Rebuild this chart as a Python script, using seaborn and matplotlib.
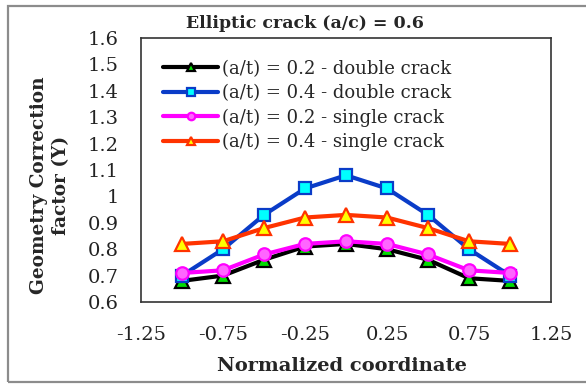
import numpy as np
import pandas as pd
import matplotlib
matplotlib.use("Agg")
import matplotlib.pyplot as plt
import seaborn as sns
from matplotlib.patches import Rectangle

# ---- data ----
x_coord = [-1.0, -0.75, -0.5, -0.25, 0.0, 0.25, 0.5, 0.75, 1.0]
y_02_double = [0.68, 0.70, 0.76, 0.81, 0.82, 0.80, 0.76, 0.69, 0.68]
y_04_double = [0.70, 0.80, 0.93, 1.03, 1.08, 1.03, 0.93, 0.80, 0.70]
y_02_single = [0.71, 0.72, 0.78, 0.82, 0.83, 0.82, 0.78, 0.72, 0.71]
y_04_single = [0.82, 0.83, 0.88, 0.92, 0.93, 0.92, 0.88, 0.83, 0.82]
labels = ["(a/t) = 0.2 - double crack", "(a/t) = 0.4 - double crack",
          "(a/t) = 0.2 - single crack", "(a/t) = 0.4 - single crack"]
xticks = [-1.25, -0.75, -0.25, 0.25, 0.75, 1.25]
xtick_labels = ["-1.25", "-0.75", "-0.25", "0.25", "0.75", "1.25"]
yticks = [0.6, 0.7, 0.8, 0.9, 1.0, 1.1, 1.2, 1.3, 1.4, 1.5, 1.6]
ytick_labels = ["0.6", "0.7", "0.8", "0.9", "1", "1.1", "1.2", "1.3", "1.4", "1.5", "1.6"]
title = "Elliptic crack (a/c) = 0.6"
xlabel = "Normalized coordinate"
ylabel = "Geometry Correction\nfactor (Y)"

frames = []
for lab, ys in zip(labels, [y_02_double, y_04_double, y_02_single, y_04_single]):
    frames.append(pd.DataFrame({"x": x_coord, "y": ys, "series": lab}))
df = pd.concat(frames, ignore_index=True)

styles = [
    dict(color="#000000", marker="^", markerfacecolor="#00DD00", markeredgecolor="#000000", markersize=10),
    dict(color="#0A3CC8", marker="s", markerfacecolor="#00FFFF", markeredgecolor="#0A3CC8", markersize=8.5),
    dict(color="#FF00FF", marker="o", markerfacecolor="#FF66FF", markeredgecolor="#FF00FF", markersize=9),
    dict(color="#FF3300", marker="^", markerfacecolor="#FFFF00", markeredgecolor="#FF3300", markersize=10),
]

sns.set_theme(style="white")
plt.rcParams["font.family"] = ["DejaVu Serif"]

fig = plt.figure(figsize=(5.86, 3.85), dpi=100)
ax = fig.add_axes([141/586, 1-302/385, (551-141)/586, (302-38)/385])

for lab, st in zip(labels, styles):
    sub = df[df["series"] == lab]
    sns.lineplot(data=sub, x="x", y="y", ax=ax, label=lab, linewidth=3,
                 markeredgewidth=1.6, **st)

ax.set_xlim(-1.25, 1.25)
ax.set_ylim(0.6, 1.6)
ax.set_xticks(xticks)
ax.set_xticklabels(xtick_labels)
ax.set_yticks(yticks)
ax.set_yticklabels(ytick_labels)
ax.tick_params(axis="both", length=0, labelsize=14, colors="#222222")
ax.tick_params(axis="y", pad=16)
ax.tick_params(axis="x", pad=17)
for sp in ax.spines.values():
    sp.set_color("#333333")
    sp.set_linewidth(1.2)
ax.set_xlabel("")
ax.set_ylabel("")

fig.text(305/586, 1-23/385, title, ha="center", va="center", fontsize=12.5, fontweight="bold")
fig.text(342/586, 1-366/385, xlabel, ha="center", va="center", fontsize=14, fontweight="bold")
fig.text(50/586, 1-185/385, ylabel, ha="center", va="center", rotation=90,
         fontsize=13.3, fontweight="bold", linespacing=1.35)

leg = ax.legend(loc="upper left", bbox_to_anchor=(0.037, 0.945), frameon=False,
                fontsize=13, handlelength=3.05, handletextpad=0.22, labelspacing=0.35,
                markerscale=0.6, borderaxespad=0)

fig.patches.append(Rectangle((8/586, 3/385), 1.2, 1-9/385, transform=fig.transFigure,
                             fill=False, edgecolor="#8C8C8C", linewidth=1.6, zorder=0))

fig.savefig("out.png", dpi=100)
